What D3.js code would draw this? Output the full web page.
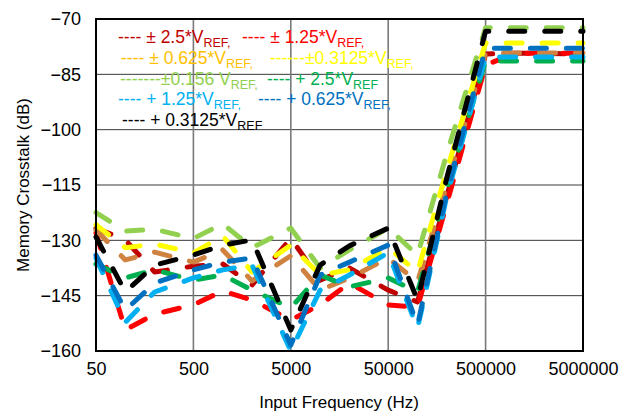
<!DOCTYPE html>
<html><head><meta charset="utf-8">
<script src="https://cdn.jsdelivr.net/npm/d3@7"></script>
<style>body{margin:0;background:#fff}svg{display:block}text{font-family:"Liberation Sans",Arial,sans-serif}</style>
</head><body><svg id="c" width="629" height="415"></svg>
<script>
const freqs = [50,100,200,500,1000,2000,5000,10000,20000,50000,100000,200000,500000,1000000,2000000,5000000];
const pm2p5    = [-126.7,-129.9,-138.6,-137.0,-136.4,-142.1,-129.4,-140.8,-137.5,-143.5,-146.7,-118,-79.5,-79.3,-79.3,-79.5];
const pm1p25   = [-128,-154.3,-150,-147.5,-143.7,-146.2,-151.6,-147.5,-141.6,-147.5,-148.1,-120,-82.5,-79.3,-79.3,-79.3];
const pm0p625  = [-127.2,-135.3,-133.2,-135.9,-132.6,-141,-134.2,-143.5,-140.2,-134.8,-141.3,-115,-79.2,-79.2,-79.2,-79.2];
const pm0p3125 = [-125.8,-132,-131,-133.4,-128.8,-138.6,-131.3,-139.4,-138,-132,-138.6,-111,-76.5,-76.5,-76.5,-76.5];
const pm0p156  = [-122.5,-127.5,-127,-129.5,-125.5,-132,-126.7,-137.5,-132.6,-126.7,-134,-106.5,-72.4,-72.4,-72.4,-72.4];
const p2p5     = [-136.4,-140.2,-138,-140.8,-139.4,-143.5,-148.3,-139.4,-142.6,-140.2,-144,-116,-81.4,-81.4,-81.4,-81.4];
const p1p25    = [-134.8,-152.2,-144,-140.2,-138,-136.7,-160,-143.5,-139.4,-133.4,-153.8,-118,-80.3,-80.3,-80.3,-80.3];
const p0p625   = [-134,-148.9,-141.6,-138,-135.9,-134.8,-158.4,-139.4,-135.9,-131.3,-153,-117,-77.9,-77.9,-77.9,-77.9];
const p0p3125  = [-129.1,-144,-136.7,-134,-131.3,-129.9,-154.3,-136.7,-131.5,-126.7,-146.2,-113,-73.3,-73.3,-73.3,-73.3];
const seriesValues = [pm2p5,pm1p25,pm0p625,pm0p3125,pm0p156,p2p5,p1p25,p0p625,p0p3125];
const lineColors   = ["#C00000","#FF0000","#D08340","#FFFF00","#92D050","#00B050","#00B0F0","#0070C0","#000000"];
const legendColors = ["#C00000","#FF0000","#FFC000","#FFFF00","#92D050","#00B050","#00B0F0","#0070C0","#000000"];
const legendMain = ["---- ± 2.5*V","---- ± 1.25*V","---- ± 0.625*V","------±0.3125*V","-------±0.156 V","---- + 2.5*V","---- + 1.25*V","---- + 0.625*V","---- + 0.3125*V"];
const legendSub  = ["REF,","REF,","REF,","REF,","REF,","REF","REF,","REF,","REF"];
const yTicks = [-70,-85,-100,-115,-130,-145,-160];
const xTicks = [50,500,5000,50000,500000,5000000];

const svg = d3.select("#c");
const L=96,R=583,T=19,B=351;
const x = d3.scaleLog().domain([50,5000000]).range([L,R]);
const y = d3.scaleLinear().domain([-160,-70]).range([B,T]);

// grid
svg.append("g").selectAll("line").data(yTicks).join("line")
  .attr("x1",L).attr("x2",R).attr("y1",d=>y(d)).attr("y2",d=>y(d))
  .attr("stroke","#3a3a3a").attr("stroke-width",1);
svg.append("g").selectAll("line").data(xTicks).join("line")
  .attr("y1",T).attr("y2",B).attr("x1",d=>x(d)).attr("x2",d=>x(d))
  .attr("stroke","#7a7a7a").attr("stroke-width",1.6);

// lines
const line = d3.line().x((d,i)=>x(freqs[i])).y(d=>y(d));
svg.append("g").selectAll("path").data(seriesValues).join("path")
  .attr("d",d=>line(d)).attr("fill","none")
  .attr("stroke",(d,i)=>lineColors[i]).attr("stroke-width",5)
  .attr("stroke-linecap","round").attr("stroke-linejoin","round")
  .attr("stroke-dasharray","16,20");

// frame
svg.append("rect").attr("x",L).attr("y",T).attr("width",R-L).attr("height",B-T)
  .attr("fill","none").attr("stroke","#000").attr("stroke-width",2);

// axes
const yAxis = d3.axisLeft(y).tickValues(yTicks).tickSize(0).tickPadding(15)
  .tickFormat(d=>String(d).replace("-","\u2212"));
const gy = svg.append("g").attr("transform",`translate(${L},0)`).call(yAxis);
gy.select(".domain").remove();
gy.selectAll("text").attr("font-size",18).attr("fill","#000").attr("font-family","Liberation Sans, Arial");

const xAxis = d3.axisBottom(x).tickValues(xTicks).tickSize(0).tickPadding(11).tickFormat(d3.format("d"));
const gx = svg.append("g").attr("transform",`translate(0,${B})`).call(xAxis);
gx.select(".domain").remove();
gx.selectAll("text").attr("font-size",18).attr("fill","#000").attr("font-family","Liberation Sans, Arial");

svg.append("text").attr("x",339).attr("y",408).attr("text-anchor","middle")
  .attr("font-size",17).text("Input Frequency (Hz)");
svg.append("text").attr("transform","translate(29,185) rotate(-90)").attr("text-anchor","middle")
  .attr("font-size",17).text("Memory Crosstalk (dB)");

// legend
const legPos = [[118,43],[242,43],[121,64],[270,64],[120,85],[267,85],[118,105],[258,105],[122,126]];
const lg = svg.append("g");
legendMain.forEach((t,i)=>{
  const tx = lg.append("text").attr("x",legPos[i][0]).attr("y",legPos[i][1])
    .attr("font-size",17.5).attr("fill",legendColors[i]);
  tx.append("tspan").text(t);
  tx.append("tspan").attr("font-size",12.5).attr("dy",3.5).text(legendSub[i]);
});
</script></body></html>
